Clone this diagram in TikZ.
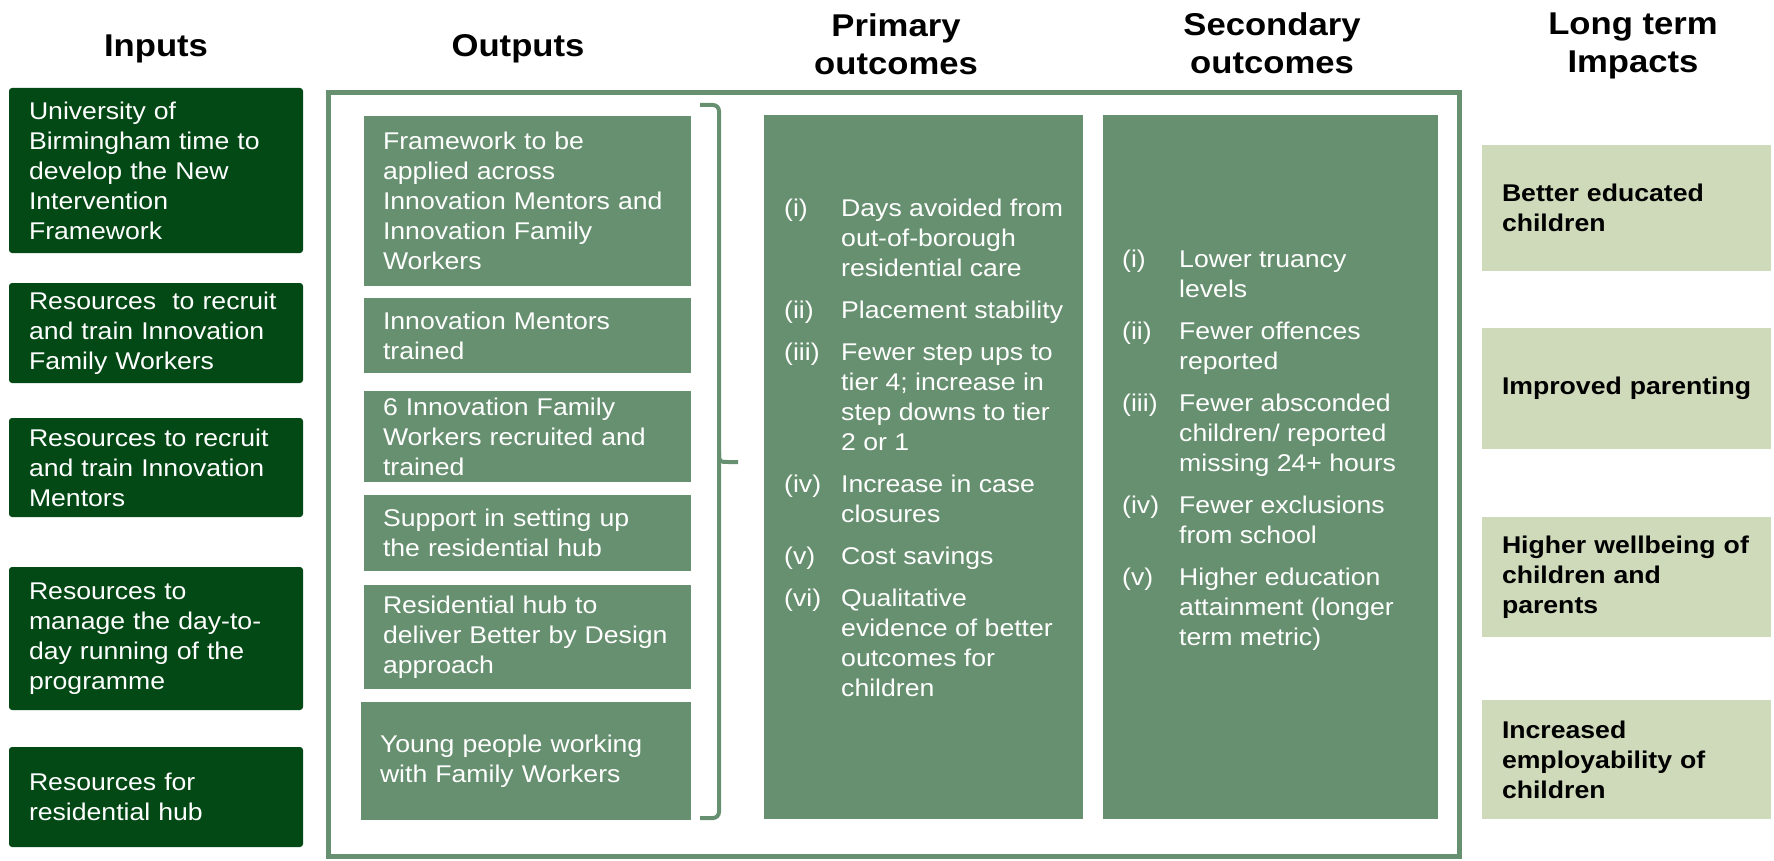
\documentclass[tikz,border=0pt]{standalone}
\usepackage{fontspec}
\setmainfont{Liberation Sans}[FakeStretch=1.1]
\definecolor{dkgreen}{HTML}{034915}
\definecolor{midgreen}{HTML}{66906F}
\definecolor{ltgreen}{HTML}{CFDABB}
\tikzset{
  body/.style={font=\fontsize{24.2}{30}\selectfont},
  hdr/.style={font=\fontsize{31.5}{38.5}\selectfont\bfseries, anchor=base, align=center, inner sep=0pt},
  inbox/.style={body, fill=dkgreen, text=white, rounded corners=3pt, text width=254pt, inner xsep=20pt, inner ysep=0pt, align=left},
  outbox/.style={body, fill=midgreen, text=white, text width=289pt, inner xsep=19pt, inner ysep=0pt, align=left},
  outcbox/.style={fill=midgreen, inner sep=0pt},
  impbox/.style={body, font=\fontsize{24.2}{30}\selectfont\bfseries, fill=ltgreen, text=black, text width=249pt, inner xsep=20pt, inner ysep=0pt, align=left},
  lbl/.style={body, text=white, anchor=base west, inner sep=0pt},
  itm/.style={body, text=white, anchor=base west, align=left, inner sep=0pt},
  frameline/.style={draw=midgreen, line width=5pt},
  braceline/.style={draw=midgreen, line width=4pt}
}
\begin{document}
\begin{tikzpicture}[x=1pt,y=-1pt]
\useasboundingbox (0,0) rectangle (1774,861);
% headers (anchor = baseline of last line)
\node[hdr] (hin) at (156,57) {Inputs};
\node[hdr] (hout) at (518,57) {Outputs};
\node[hdr] (hprim) at (896,75) {Primary\\outcomes};
\node[hdr] (hsec) at (1272,74) {Secondary\\outcomes};
\node[hdr] (himp) at (1633,73) {Long term\\Impacts};
% inputs
\node[inbox, minimum height=165pt] (in1) at (156,170.5) {University of\\Birmingham time to\\develop the New\\Intervention\\Framework};
\node[inbox, minimum height=100pt] (in2) at (156,333) {Resources\ \ to recruit\\and train Innovation\\Family Workers};
\node[inbox, minimum height=99pt] (in3) at (156,467.5) {Resources to recruit\\and train Innovation\\Mentors};
\node[inbox, minimum height=143pt] (in4) at (156,638.5) {Resources to\\manage the day-to-\\day running of the\\programme};
\node[inbox, minimum height=100pt] (in5) at (156,797) {Resources for\\residential hub};
% frame
\draw[frameline] (328,92.5) rectangle (1459.5,856);
% outputs
\node[outbox, minimum height=170pt] (out1) at (527.5,201) {Framework to be\\applied across\\Innovation Mentors and\\Innovation Family\\Workers};
\node[outbox, minimum height=75pt] (out2) at (527.5,335.5) {Innovation Mentors\\trained};
\node[outbox, minimum height=91pt] (out3) at (527.5,436.5) {6 Innovation Family\\Workers recruited and\\trained};
\node[outbox, minimum height=76pt] (out4) at (527.5,533) {Support in setting up\\the residential hub};
\node[outbox, minimum height=104pt] (out5) at (527.5,637) {Residential hub to\\\mbox{deliver Better by Design}\\approach};
\node[outbox, text width=292pt, minimum height=118pt] (out6) at (526,761) {Young people working\\with Family Workers};
% brace
\draw[braceline, rounded corners=6pt] (700,105) -- (719,105) -- (719,818) -- (700,818);
\draw[braceline] (719,452) .. controls (719,462) .. (729,462) -- (738,462);
% primary outcomes (item texts anchored at baseline of their last line)
\node[outcbox, minimum width=319pt, minimum height=704pt] (prim) at (923.5,467) {};
\node[lbl] (p1n) at (784,216) {(i)};
\node[itm] (p1t) at (841,276) {Days avoided from\\out-of-borough\\residential care};
\node[lbl] (p2n) at (784,318) {(ii)};
\node[itm] (p2t) at (841,318) {Placement stability};
\node[lbl] (p3n) at (784,360) {(iii)};
\node[itm] (p3t) at (841,450) {Fewer step ups to\\tier 4; increase in\\step downs to tier\\2 or 1};
\node[lbl] (p4n) at (784,492) {(iv)};
\node[itm] (p4t) at (841,522) {Increase in case\\closures};
\node[lbl] (p5n) at (784,564) {(v)};
\node[itm] (p5t) at (841,564) {Cost savings};
\node[lbl] (p6n) at (784,606) {(vi)};
\node[itm] (p6t) at (841,696) {Qualitative\\evidence of better\\outcomes for\\children};
% secondary outcomes
\node[outcbox, minimum width=335pt, minimum height=704pt] (sec) at (1270.5,467) {};
\node[lbl] (s1n) at (1122,267) {(i)};
\node[itm] (s1t) at (1179,297) {Lower truancy\\levels};
\node[lbl] (s2n) at (1122,339) {(ii)};
\node[itm] (s2t) at (1179,369) {Fewer offences\\reported};
\node[lbl] (s3n) at (1122,411) {(iii)};
\node[itm] (s3t) at (1179,471) {Fewer absconded\\children/ reported\\missing 24+ hours};
\node[lbl] (s4n) at (1122,513) {(iv)};
\node[itm] (s4t) at (1179,543) {Fewer exclusions\\from school};
\node[lbl] (s5n) at (1122,585) {(v)};
\node[itm] (s5t) at (1179,645) {Higher education\\attainment (longer\\term metric)};
% impacts
\node[impbox, minimum height=126pt] (imp1) at (1626.5,208) {Better educated\\children};
\node[impbox, minimum height=121pt] (imp2) at (1626.5,388.5) {\mbox{Improved parenting}};
\node[impbox, minimum height=120pt] (imp3) at (1626.5,577) {Higher wellbeing of\\children and\\parents};
\node[impbox, minimum height=119pt] (imp4) at (1626.5,759.5) {Increased\\employability of\\children};
\end{tikzpicture}
\end{document}
